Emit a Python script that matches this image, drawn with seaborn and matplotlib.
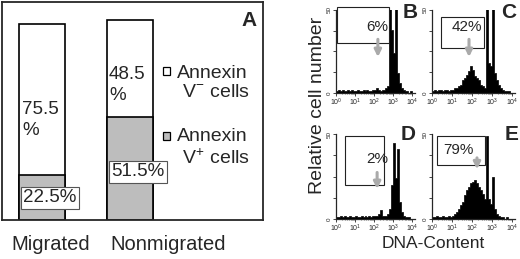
import numpy as np
import pandas as pd
import seaborn as sns
import matplotlib.pyplot as plt
from matplotlib.patches import Rectangle

sns.set_style("ticks")
plt.rcParams["font.family"] = ["Liberation Sans", "DejaVu Sans"]
plt.rcParams["mathtext.fontset"] = "custom"
plt.rcParams["mathtext.rm"] = "Liberation Sans"

# panel A data
groups = ["Migrated", "Nonmigrated"]
annexin_neg = [75.5, 48.5]
annexin_pos = [22.5, 51.5]

# panels B-E: DNA content histograms, 0.1-decade bins from 10^0 to 10^4
hist_B = [1, 2, 1, 2, 1, 1, 2, 1, 2, 1,
          1, 2, 1, 1, 2, 1, 2, 1, 1, 2,
          2, 3, 2, 1, 2, 2, 3, 4, 60, 38,
          24, 55, 12, 6, 3, 2, 1, 1, 0, 1]
hist_C = [1, 2, 1, 2, 2, 1, 2, 2, 1, 2,
          2, 3, 3, 4, 5, 8, 9, 11, 13, 16,
          14, 10, 9, 8, 5, 4, 3, 60, 18, 16,
          60, 12, 8, 5, 3, 2, 1, 1, 1, 0]
hist_D = [1, 1, 2, 1, 2, 1, 1, 2, 1, 1,
          2, 1, 1, 2, 1, 2, 1, 2, 1, 2,
          2, 2, 3, 5, 2, 2, 2, 3, 6, 20,
          45, 24, 41, 10, 4, 2, 1, 1, 1, 0]
hist_E = [1, 1, 2, 1, 1, 2, 1, 1, 2, 1,
          2, 3, 4, 6, 8, 10, 14, 17, 19, 21,
          22, 23, 21, 19, 17, 15, 12, 49, 12, 9,
          25, 6, 3, 2, 1, 1, 0, 1, 0, 0]
gate_pct = ["6%", "42%", "2%", "79%"]
panel_letters = ["B", "C", "D", "E"]

W, H = 520, 259
fig = plt.figure(figsize=(W / 100, H / 100), dpi=100)


def fx(px):
    return px / W


def fy(py):
    return 1 - py / H


# ---- panel A ----
axA = fig.add_axes([fx(2), fy(220), fx(261), 218 / H])
df = pd.DataFrame({"group": groups, "neg": annexin_neg, "pos": annexin_pos})
df["total"] = df["neg"] + df["pos"]
sns.barplot(data=df, x="group", y="total", color="white", edgecolor="black",
            linewidth=1.2, width=0.52, saturation=1, ax=axA)
sns.barplot(data=df, x="group", y="pos", color="#bdbdbd", edgecolor="black",
            linewidth=1.2, width=0.52, saturation=1, ax=axA)
axA.set_xlim(-0.455, 2.51)
axA.set_ylim(0, 109)
axA.set_xticks([])
axA.set_yticks([])
axA.set_xlabel("")
axA.set_ylabel("")
for s in axA.spines.values():
    s.set_linewidth(1.3)
    s.set_visible(True)

fs = 13.5
axA.text(-0.227, 50, f"{annexin_neg[0]}\n%", fontsize=fs, ha="left", va="center",
         linespacing=1.3)
axA.text(0.76, 67.5, f"{annexin_neg[1]}\n%", fontsize=fs, ha="left", va="center",
         linespacing=1.3)
box = dict(boxstyle="square,pad=0.12", fc="white", ec="#555555", lw=0.8)
axA.text(-0.215, 11, f"{annexin_pos[0]}%", fontsize=fs, ha="left", va="center", bbox=box)
axA.text(0.79, 24, f"{annexin_pos[1]}%", fontsize=fs, ha="left", va="center", bbox=box)

axA.add_patch(Rectangle((1.375, 72.5), 0.08, 4, fc="white", ec="black", lw=0.9))
axA.add_patch(Rectangle((1.375, 40), 0.08, 4, fc="#bdbdbd", ec="black", lw=0.9))
axA.text(1.534, 68.5, "Annexin\n V$^{-}$ cells", fontsize=14, ha="left", va="center",
         linespacing=1.2)
axA.text(1.534, 36, "Annexin\n V$^{+}$ cells", fontsize=14, ha="left", va="center",
         linespacing=1.2)
axA.text(2.35, 100, "A", fontsize=15, fontweight="bold", ha="center", va="center")

fig.text(fx(51), fy(245), groups[0], fontsize=14.5, ha="center", va="center")
fig.text(fx(168), fy(245), groups[1], fontsize=14.5, ha="center", va="center")

# ---- panels B-E ----
edges = np.round(np.arange(0, 4.01, 0.1), 2)
centers = edges[:-1] + 0.05
hists = [hist_B, hist_C, hist_D, hist_E]
rects = [[336, 93, 79, 83], [432, 93, 83, 83], [336, 219, 79, 85], [432, 219, 83, 85]]
gates = [(0.05, 2.8, 30, 52), (0.45, 2.6, 27, 46), (0.47, 2.5, 20, 49), (0.25, 2.65, 32, 49)]
pct_pos = [(2.16, 39.8), (1.75, 39.8), (2.16, 35.3), (1.3, 40.6)]
arrows = [(2.2, 34, 20), (1.85, 34, 20), (2.16, 29, 16), (2.25, 37.6, 27.6)]
letter_pos = [(410, 12), (509, 12), (408, 135), (512, 135)]

minor = [d + np.log10(k) for d in range(4) for k in range(2, 10)]
for i in range(4):
    l, b, w, h = rects[i]
    ax = fig.add_axes([fx(l), fy(b), fx(w), h / H])
    hdf = pd.DataFrame({"log_dna": centers, "count": hists[i]})
    sns.histplot(data=hdf, x="log_dna", weights="count", bins=list(edges),
                 element="step", fill=True, color="black", alpha=1,
                 linewidth=0.5, ax=ax)
    ax.set_xlim(0, 4.15)
    ax.set_ylim(0, 50)
    ax.set_xlabel("")
    ax.set_ylabel("")
    ax.spines["top"].set_visible(False)
    ax.spines["right"].set_visible(False)
    for s in ["left", "bottom"]:
        ax.spines[s].set_linewidth(0.9)
    ax.set_xticks(range(5))
    ax.set_xticklabels([f"$10^{{{k}}}$" for k in range(5)], fontsize=5,
                       family="DejaVu Serif")
    ax.set_xticks(minor, minor=True)
    ax.set_yticks([0, 12.5, 25, 37.5, 50])
    ax.set_yticklabels(["0", "", "", "", "50"], fontsize=4.5, rotation=90, va="center")
    ax.tick_params(length=2, width=0.6, pad=1)
    ax.tick_params(which="minor", length=1, width=0.4)
    x0, x1, y0, y1 = gates[i]
    ax.add_patch(Rectangle((x0, y0), x1 - x0, y1 - y0, fill=False, ec="#222222",
                           lw=0.8, clip_on=False, zorder=5))
    ax.text(pct_pos[i][0], pct_pos[i][1], gate_pct[i], fontsize=11, ha="center",
            va="center", zorder=6)
    ax_x, ys, ye = arrows[i]
    ax.annotate("", xy=(ax_x, ye), xytext=(ax_x, ys),
                arrowprops=dict(arrowstyle="-|>,head_width=0.2,head_length=0.4",
                                color="#aaaaaa", lw=2.2), zorder=6)
    lx, ly = letter_pos[i]
    fig.text(fx(lx), fy(ly), panel_letters[i], fontsize=15, fontweight="bold",
             ha="center", va="center")

fig.text(fx(317), fy(105), "Relative cell number", fontsize=14, rotation=90,
         ha="center", va="center")
fig.text(fx(433), fy(243), "DNA-Content", fontsize=12.5, ha="center", va="center")

fig.savefig("out.png", dpi=100)
